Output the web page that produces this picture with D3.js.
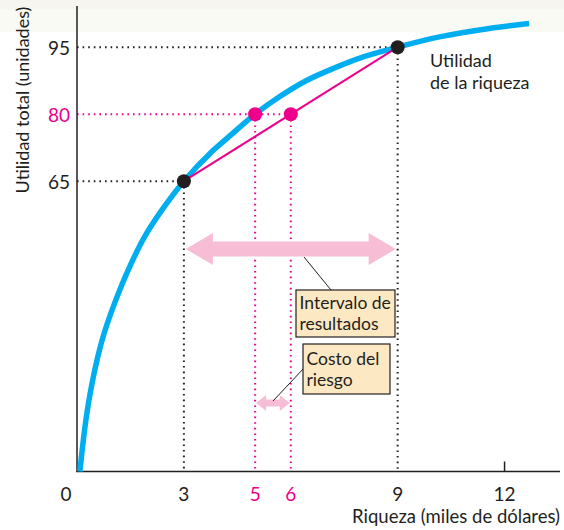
<!DOCTYPE html>
<html>
<head>
<meta charset="utf-8">
<script src="https://cdn.jsdelivr.net/npm/d3@7"></script>
<style>
  body { margin: 0; background: #fff; }
  text { font-family: Lato, "Open Sans", sans-serif; fill: #231f20; }
</style>
</head>
<body>
<div id="chart"></div>
<script>
// curve: wealth (thousand $) vs total utility
const wealth  = [0.08, 0.2, 0.32, 0.52, 0.76, 1.08, 1.43, 1.9, 2.46, 3, 3.81, 4.37, 5, 5.68, 6.43, 7.3, 8.1, 9, 10.17, 11.57, 12.69];
const utility = [0, 8.5, 15.2, 23.5, 30.9, 38.2, 45, 52.6, 59.4, 65, 71.8, 75.7, 80, 83.9, 87.5, 90.6, 93, 95, 97.3, 99.2, 100.3];

// outcomes and their utilities
const outcomeW = [3, 9];
const outcomeU = [65, 95];
// expected utility and the certain wealth that gives it
const pinkW = [5, 6];
const pinkU = [80, 80];

const xTickVals = [0, 3, 5, 6, 9, 12];
const xTickPink = [false, false, true, true, false, false];
const yTickVals = [65, 80, 95];
const yTickPink = [false, true, false];

const width = 564, height = 530;
const blue = "#00aeef", pink = "#ec008c", lightPink = "#f7bdd5", ink = "#231f20";

const svg = d3.select("#chart")
  .append("svg")
    .attr("width", width)
    .attr("height", height);

// faint band at the top of the page
svg.append("rect").attr("x", 0).attr("y", 0).attr("width", width).attr("height", 32).attr("fill", "#fafaf5");
svg.append("rect").attr("x", 0).attr("y", 0).attr("width", width).attr("height", 9).attr("fill", "#f6f5ef");

const x = d3.scaleLinear().domain([0, 13.5]).range([77, 558]);
const y = d3.scaleLinear().domain([0, 104]).range([471.5, 7]);

// guide lines (dotted)
function dotted(x1, y1, x2, y2, color) {
  svg.append("line")
    .attr("x1", x1).attr("y1", y1).attr("x2", x2).attr("y2", y2)
    .attr("stroke", color).attr("stroke-width", 2)
    .attr("stroke-dasharray", "1.6,4");
}
outcomeW.forEach((w, i) => {
  dotted(x(0), y(outcomeU[i]), x(w), y(outcomeU[i]), ink);
  dotted(x(w), y(outcomeU[i]), x(w), y(0), ink);
});
dotted(x(0), y(pinkU[1]), x(pinkW[1]), y(pinkU[1]), pink);
pinkW.forEach((w, i) => dotted(x(w), y(pinkU[i]), x(w), y(0), pink));

// axes
svg.append("line").attr("x1", x(0)).attr("y1", y(0)).attr("x2", x(0)).attr("y2", 6)
  .attr("stroke", ink).attr("stroke-width", 1.5);
svg.append("line").attr("x1", x(0) - 0.75).attr("y1", y(0)).attr("x2", 560).attr("y2", y(0))
  .attr("stroke", ink).attr("stroke-width", 1.5);
svg.append("line").attr("x1", x(12)).attr("x2", x(12)).attr("y1", y(0)).attr("y2", y(0) - 10)
  .attr("stroke", ink).attr("stroke-width", 1.5);

// tick labels
svg.selectAll(".xt")
  .data(xTickVals)
  .join("text")
    .attr("x", (d, i) => i === 0 ? x(d) - 11 : x(d))
    .attr("y", 501)
    .attr("text-anchor", "middle")
    .attr("font-size", 19)
    .style("fill", (d, i) => xTickPink[i] ? pink : ink)
    .text(d => d);

svg.selectAll(".yt")
  .data(yTickVals)
  .join("text")
    .attr("x", 70)
    .attr("y", d => y(d) + 8)
    .attr("text-anchor", "end")
    .attr("font-size", 19)
    .style("fill", (d, i) => yTickPink[i] ? pink : ink)
    .text(d => d);

// axis titles
svg.append("text")
  .attr("x", 560).attr("y", 523)
  .attr("text-anchor", "end")
  .attr("font-size", 18.5)
  .text("Riqueza (miles de dólares)");

svg.append("text")
  .attr("transform", "translate(28.5,100) rotate(-90)")
  .attr("text-anchor", "middle")
  .attr("font-size", 18)
  .text("Utilidad total (unidades)");

// utility curve
const line = d3.line()
  .x(d => x(d[0]))
  .y(d => y(d[1]))
  .curve(d3.curveCatmullRom.alpha(0.5));

svg.append("path")
  .datum(d3.zip(wealth, utility))
  .attr("d", line)
  .attr("fill", "none")
  .attr("stroke", blue)
  .attr("stroke-width", 5.5);

// chord between the two outcomes
svg.append("line")
  .attr("x1", x(outcomeW[0])).attr("y1", y(outcomeU[0]))
  .attr("x2", x(outcomeW[1])).attr("y2", y(outcomeU[1]))
  .attr("stroke", pink).attr("stroke-width", 2);

// dots
svg.selectAll(".bd")
  .data(d3.zip(outcomeW, outcomeU))
  .join("circle")
    .attr("cx", d => x(d[0])).attr("cy", d => y(d[1]))
    .attr("r", 7).attr("fill", ink);
svg.selectAll(".pd")
  .data(d3.zip(pinkW, pinkU))
  .join("circle")
    .attr("cx", d => x(d[0])).attr("cy", d => y(d[1]))
    .attr("r", 7).attr("fill", pink);

// curve label
const lab = svg.append("text").attr("x", 430).attr("y", 67).attr("font-size", 18);
lab.append("tspan").attr("x", 430).text("Utilidad");
lab.append("tspan").attr("x", 430).attr("dy", 21.5).text("de la riqueza");

// double-headed arrows
function doubleArrow(x1, x2, cy, shaft, head, headLen) {
  const pts = [
    [x1, cy], [x1 + headLen, cy - head], [x1 + headLen, cy - shaft],
    [x2 - headLen, cy - shaft], [x2 - headLen, cy - head], [x2, cy],
    [x2 - headLen, cy + head], [x2 - headLen, cy + shaft],
    [x1 + headLen, cy + shaft], [x1 + headLen, cy + head]
  ];
  svg.append("polygon")
    .attr("points", pts.map(p => p.join(",")).join(" "))
    .attr("fill", lightPink);
}
doubleArrow(x(outcomeW[0]) + 2, x(outcomeW[1]) - 2, 249, 7.5, 16, 27);
doubleArrow(x(pinkW[0]) + 1, x(pinkW[1]) - 1, 403, 3.5, 8, 10);

// leader lines
svg.append("line").attr("x1", 304).attr("y1", 257).attr("x2", 331).attr("y2", 290)
  .attr("stroke", ink).attr("stroke-width", 1);
svg.append("line").attr("x1", 273).attr("y1", 401).attr("x2", 304).attr("y2", 368)
  .attr("stroke", ink).attr("stroke-width", 1);

// label boxes
function box(bx, by, bw, bh, lines, baseline) {
  svg.append("rect")
    .attr("x", bx).attr("y", by).attr("width", bw).attr("height", bh)
    .attr("fill", "#fde8c4").attr("stroke", ink).attr("stroke-width", 1.2);
  const t = svg.append("text").attr("y", baseline).attr("font-size", 17.5);
  lines.forEach((s, i) => t.append("tspan").attr("x", bx + 3.5).attr("dy", i ? 20.5 : 0).text(s));
}
box(296, 290, 99, 47, ["Intervalo de", "resultados"], 309);
box(303, 344, 87, 50, ["Costo del", "riesgo"], 365);
</script>
</body>
</html>
